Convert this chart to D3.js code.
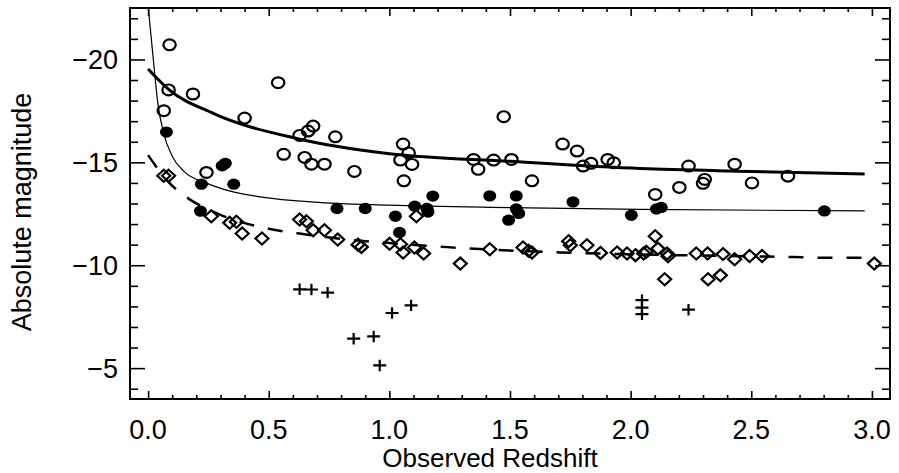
<!DOCTYPE html>
<html>
<head>
<meta charset="utf-8">
<script src="https://cdn.jsdelivr.net/npm/d3@7"></script>
<style>
  body { margin: 0; background: #fff; }
  text { font-family: "Liberation Sans", Arial, sans-serif; fill: #000; }
</style>
</head>
<body>
<svg id="chart" width="899" height="473"></svg>
<script>
// Data: redshift z and absolute magnitude M
const openZ = [0.089, 0.085, 0.186, 0.065, 0.40, 0.539, 0.628, 0.663, 0.684, 0.776, 0.562, 0.649, 0.677, 0.731, 0.855, 0.242,
  1.057, 1.08, 1.046, 1.094, 1.06, 1.349, 1.368, 1.432, 1.474, 1.506, 1.591, 1.718, 1.778, 1.803, 1.836, 1.905, 1.93,
  2.24, 2.431, 2.652, 2.202, 2.307, 2.30, 2.503, 2.102]
const openM = [-20.71, -18.52, -18.32, -17.51, -17.15, -18.87, -16.31, -16.52, -16.76, -16.24, -15.39, -15.24, -14.91, -14.91, -14.56, -14.51,
  -15.89, -15.46, -15.11, -14.9, -14.1, -15.14, -14.66, -15.11, -17.22, -15.14, -14.1, -15.89, -15.55, -14.82, -14.95, -15.14, -14.98,
  -14.82, -14.91, -14.33, -13.78, -14.17, -13.98, -14.0, -13.44]

const filledZ = [0.076, 0.32, 0.307, 0.221, 0.355, 0.217, 0.783, 0.90, 1.18, 1.105, 1.156, 1.16, 1.025, 1.042,
  1.416, 1.526, 1.526, 1.536, 1.494, 1.761, 2.003, 2.107, 2.127, 2.803]
const filledM = [-16.47, -14.95, -14.83, -13.94, -13.94, -12.63, -12.76, -12.76, -13.36, -12.87, -12.76, -12.59, -12.38, -11.59,
  -13.37, -13.37, -12.73, -12.52, -12.19, -13.08, -12.43, -12.73, -12.81, -12.64]

const diamondZ = [0.065, 0.085, 0.262, 0.338, 0.366, 0.39, 0.472, 0.628, 0.656, 0.684, 0.731, 0.786, 0.884, 0.870,
  1.001, 1.046, 1.057, 1.104, 1.112, 1.142, 1.294, 1.416, 1.554, 1.577, 1.591, 1.743, 1.75, 1.819, 1.875, 1.944,
  1.985, 2.02, 2.054, 2.065, 2.102, 2.113, 2.155, 2.151, 2.141, 2.272, 2.319, 2.383, 2.431, 2.493, 2.545, 2.321, 2.372, 3.01]
const diamondM = [-14.35, -14.35, -12.38, -12.06, -12.11, -11.54, -11.30, -12.22, -12.14, -11.70, -11.70, -11.25, -10.89, -11.0,
  -11.04, -11.02, -10.62, -10.86, -12.38, -10.57, -10.08, -10.78, -10.86, -10.70, -10.62, -11.17, -10.97, -10.97, -10.60, -10.62,
  -10.57, -10.49, -10.57, -10.65, -11.41, -10.81, -10.44, -10.57, -9.32, -10.57, -10.57, -10.54, -10.29, -10.45, -10.45, -9.32, -9.51, -10.08]

const plusZ = [0.628, 0.677, 0.744, 0.852, 0.935, 0.96, 1.011, 1.09, 2.047, 2.047, 2.047, 2.24]
const plusM = [-8.83, -8.82, -8.67, -6.43, -6.54, -5.13, -7.68, -8.05, -8.30, -7.94, -7.62, -7.84]

// Fitted curves, sampled from the figure
const thickZ = [0, 0.085, 0.27, 0.62, 1.0, 1.5, 2.04, 2.5, 2.97]
const thickM = [-19.54, -18.55, -17.38, -16.15, -15.42, -15.05, -14.7, -14.56, -14.43]
const thinZ = [0.001, 0.02, 0.04, 0.065, 0.1, 0.15, 0.245, 0.341, 0.479, 0.686, 1.0, 1.5, 2.04, 2.97]
const thinM = [-22.5, -20.2, -17.9, -16.4, -15.3, -14.55, -13.98, -13.6, -13.3, -13.07, -12.92, -12.8, -12.71, -12.64]
const dashZ = [0, 0.03, 0.08, 0.148, 0.189, 0.3, 0.5, 0.62, 0.8, 1.0, 1.24, 1.47, 1.71, 2.2, 2.57, 2.86, 2.97]
const dashM = [-15.35, -14.85, -14.1, -13.4, -13.08, -12.45, -11.77, -11.55, -11.28, -11.08, -10.88, -10.73, -10.62, -10.49, -10.42, -10.36, -10.36]

const xTicks = [0, 0.5, 1, 1.5, 2, 2.5, 3]
const xTickLabels = ['0.0', '0.5', '1.0', '1.5', '2.0', '2.5', '3.0']
const yTicks = [-20, -15, -10, -5]
const yTickLabels = ['\u221220', '\u221215', '\u221210', '\u22125']

const svg = d3.select('#chart')
const plotLeft = 130, plotRight = 890, plotTop = 8, plotBottom = 399

const x = d3.scaleLinear().domain([-0.075, 3.075]).range([plotLeft, plotRight])
const y = d3.scaleLinear().domain([-3.5, -22.5]).range([plotBottom, plotTop])

// minor ticks
const xMinor = d3.range(0, 3.05, 0.1).filter(v => Math.abs(v * 2 - Math.round(v * 2)) > 1e-6)
const yMinor = d3.range(-22, -3.5, 1).filter(v => v % 5 !== 0)

function tickGroup (axis, tr) {
  const g = svg.append('g').attr('transform', tr).call(axis)
  g.select('.domain').remove()
  g.selectAll('line').attr('stroke', '#000').attr('stroke-width', 1.6)
  g.selectAll('text').remove()
  return g
}

// inward ticks on all four sides
tickGroup(d3.axisBottom(x).tickValues(xTicks).tickSize(-8), `translate(0,${plotBottom})`)
tickGroup(d3.axisBottom(x).tickValues(xMinor).tickSize(-4), `translate(0,${plotBottom})`)
tickGroup(d3.axisTop(x).tickValues(xTicks).tickSize(-8), `translate(0,${plotTop})`)
tickGroup(d3.axisTop(x).tickValues(xMinor).tickSize(-4), `translate(0,${plotTop})`)
tickGroup(d3.axisLeft(y).tickValues(yTicks).tickSize(-15), `translate(${plotLeft},0)`)
tickGroup(d3.axisLeft(y).tickValues(yMinor).tickSize(-8), `translate(${plotLeft},0)`)
tickGroup(d3.axisRight(y).tickValues(yTicks).tickSize(-15), `translate(${plotRight},0)`)
tickGroup(d3.axisRight(y).tickValues(yMinor).tickSize(-8), `translate(${plotRight},0)`)

svg.append('rect')
  .attr('x', plotLeft).attr('y', plotTop)
  .attr('width', plotRight - plotLeft).attr('height', plotBottom - plotTop)
  .attr('fill', 'none').attr('stroke', '#000').attr('stroke-width', 2)

// tick labels
svg.append('g').selectAll('text').data(xTicks).join('text')
  .attr('x', d => x(d)).attr('y', 439)
  .attr('text-anchor', 'middle').attr('font-size', 27)
  .text((d, i) => xTickLabels[i])
svg.append('g').selectAll('text').data(yTicks).join('text')
  .attr('x', 118).attr('y', d => y(d) + 10)
  .attr('text-anchor', 'end').attr('font-size', 27)
  .text((d, i) => yTickLabels[i])

svg.append('text')
  .attr('x', 490).attr('y', 467)
  .attr('text-anchor', 'middle').attr('font-size', 26)
  .text('Observed Redshift')
svg.append('text')
  .attr('transform', 'translate(31,212) rotate(-90)')
  .attr('text-anchor', 'middle').attr('font-size', 27)
  .text('Absolute magnitude')

// curves
const plot = svg.append('g')
function curve (zs, ms, width, dash) {
  const line = d3.line().x(d => x(d[0])).y(d => y(d[1])).curve(d3.curveMonotoneX)
  plot.append('path')
    .datum(d3.zip(zs, ms))
    .attr('d', line)
    .attr('fill', 'none').attr('stroke', '#000')
    .attr('stroke-width', width)
    .attr('stroke-dasharray', dash || null)
}
curve(thickZ, thickM, 3)
curve(thinZ, thinM, 1.2)
curve(dashZ, dashM, 2.5, '15,14')

// markers
plot.append('g').selectAll('ellipse').data(d3.zip(openZ, openM)).join('ellipse')
  .attr('cx', d => x(d[0])).attr('cy', d => y(d[1]))
  .attr('rx', 6.2).attr('ry', 5.4)
  .attr('fill', 'none').attr('stroke', '#000').attr('stroke-width', 2.2)
plot.append('g').selectAll('ellipse').data(d3.zip(filledZ, filledM)).join('ellipse')
  .attr('cx', d => x(d[0])).attr('cy', d => y(d[1]))
  .attr('rx', 6.5).attr('ry', 5.7)
  .attr('fill', '#000')
plot.append('g').selectAll('path').data(d3.zip(diamondZ, diamondM)).join('path')
  .attr('transform', d => `translate(${x(d[0])},${y(d[1])})`)
  .attr('d', 'M0,-6L6.5,0L0,6L-6.5,0Z')
  .attr('fill', 'none').attr('stroke', '#000').attr('stroke-width', 2.2)
plot.append('g').selectAll('path').data(d3.zip(plusZ, plusM)).join('path')
  .attr('transform', d => `translate(${x(d[0])},${y(d[1])})`)
  .attr('d', 'M-6.5,0H6.5M0,-5.7V5.7')
  .attr('fill', 'none').attr('stroke', '#000').attr('stroke-width', 2.2)
</script>
</body>
</html>
